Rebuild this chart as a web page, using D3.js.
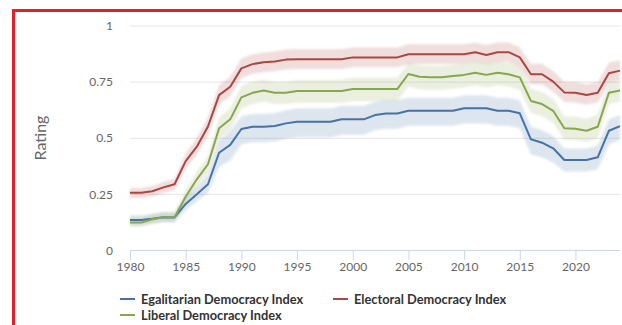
<!DOCTYPE html>
<html>
<head>
<meta charset="utf-8">
<script src="https://cdn.jsdelivr.net/npm/d3@7"></script>
<style>
  html, body { margin: 0; padding: 0; background: #fff; }
  svg { display: block; }
  text { font-family: Lato, "Open Sans", sans-serif; }
</style>
</head>
<body>
<svg id="chart" width="622" height="325"></svg>
<script>
// V-Dem democracy indices, 1980–2024, with confidence intervals
const years = d3.range(1980, 2025);

const electoral = [0.255,0.255,0.262,0.279,0.293,0.396,0.460,0.550,0.690,0.727,
  0.809,0.828,0.836,0.840,0.848,0.850,0.850,0.850,0.850,0.850,
  0.858,0.858,0.858,0.858,0.858,0.872,0.872,0.872,0.872,0.872,
  0.872,0.881,0.869,0.881,0.881,0.858,0.783,0.783,0.750,0.702,
  0.700,0.690,0.700,0.787,0.799];
const electoralLow = [0.232,0.232,0.238,0.254,0.266,0.362,0.423,0.510,0.648,0.684,
  0.766,0.785,0.792,0.796,0.804,0.806,0.806,0.806,0.806,0.806,
  0.814,0.814,0.814,0.814,0.814,0.828,0.828,0.828,0.828,0.828,
  0.828,0.837,0.826,0.837,0.837,0.814,0.737,0.737,0.705,0.659,
  0.657,0.647,0.657,0.744,0.756];
const electoralHigh = [0.277,0.277,0.285,0.303,0.318,0.430,0.500,0.592,0.735,0.772,
  0.853,0.872,0.880,0.884,0.893,0.895,0.895,0.895,0.895,0.895,
  0.902,0.902,0.902,0.902,0.902,0.916,0.916,0.916,0.916,0.916,
  0.916,0.924,0.913,0.924,0.924,0.902,0.830,0.830,0.797,0.750,
  0.748,0.738,0.748,0.834,0.846];

const liberal = [0.122,0.122,0.137,0.146,0.146,0.237,0.315,0.382,0.542,0.582,
  0.680,0.700,0.710,0.700,0.700,0.708,0.708,0.708,0.708,0.708,
  0.717,0.717,0.717,0.717,0.717,0.784,0.772,0.770,0.770,0.775,
  0.780,0.790,0.780,0.790,0.783,0.769,0.664,0.650,0.620,0.542,
  0.540,0.531,0.549,0.700,0.710];
const liberalLow = [0.103,0.103,0.117,0.125,0.125,0.207,0.282,0.345,0.495,0.533,
  0.630,0.650,0.660,0.650,0.650,0.656,0.656,0.656,0.656,0.656,
  0.664,0.664,0.664,0.664,0.664,0.728,0.716,0.714,0.714,0.719,
  0.724,0.734,0.724,0.734,0.727,0.713,0.610,0.596,0.567,0.492,
  0.490,0.481,0.499,0.650,0.660];
const liberalHigh = [0.142,0.142,0.158,0.168,0.168,0.268,0.350,0.420,0.590,0.632,
  0.730,0.750,0.760,0.750,0.750,0.758,0.758,0.758,0.758,0.758,
  0.767,0.767,0.767,0.767,0.767,0.834,0.822,0.820,0.820,0.825,
  0.830,0.840,0.830,0.840,0.833,0.819,0.718,0.704,0.674,0.595,
  0.593,0.585,0.602,0.745,0.755];

const egalitarian = [0.134,0.134,0.139,0.146,0.145,0.205,0.248,0.293,0.433,0.468,
  0.539,0.549,0.549,0.552,0.564,0.571,0.571,0.571,0.571,0.582,
  0.582,0.582,0.601,0.608,0.608,0.620,0.620,0.620,0.620,0.620,
  0.631,0.631,0.631,0.620,0.620,0.609,0.493,0.478,0.453,0.401,
  0.401,0.401,0.413,0.531,0.552];
const egalitarianLow = [0.113,0.113,0.118,0.125,0.124,0.177,0.216,0.255,0.370,0.400,
  0.470,0.480,0.480,0.483,0.495,0.502,0.502,0.502,0.502,0.513,
  0.513,0.513,0.533,0.540,0.540,0.553,0.553,0.553,0.553,0.553,
  0.564,0.564,0.564,0.553,0.553,0.542,0.425,0.412,0.390,0.350,
  0.350,0.350,0.360,0.470,0.490];
const egalitarianHigh = [0.155,0.155,0.160,0.168,0.167,0.235,0.282,0.335,0.490,0.528,
  0.597,0.607,0.607,0.610,0.622,0.631,0.631,0.631,0.631,0.642,
  0.642,0.642,0.660,0.667,0.667,0.678,0.678,0.678,0.678,0.678,
  0.689,0.689,0.689,0.678,0.678,0.667,0.550,0.535,0.508,0.452,
  0.452,0.452,0.465,0.582,0.600];

const seriesNames = ["Egalitarian Democracy Index", "Electoral Democracy Index", "Liberal Democracy Index"];
const seriesColors = ["#4572a7", "#aa4643", "#89a54e"];
const xTicks = [1980, 1985, 1990, 1995, 2000, 2005, 2010, 2015, 2020];
const yTicks = [0, 0.25, 0.5, 0.75, 1];
const yTickLabels = ["0", "0.25", "0.5", "0.75", "1"];
const yTitle = "Rating";

const series = [
  { name: seriesNames[0], color: seriesColors[0], mid: egalitarian, low: egalitarianLow, high: egalitarianHigh },
  { name: seriesNames[1], color: seriesColors[1], mid: electoral, low: electoralLow, high: electoralHigh },
  { name: seriesNames[2], color: seriesColors[2], mid: liberal, low: liberalLow, high: liberalHigh }
];

const svg = d3.select("#chart");
const plot = { left: 130, right: 620, top: 25.5, bottom: 250 };

const x = d3.scaleLinear().domain([1980, 2024]).range([plot.left, plot.right]);
const y = d3.scaleLinear().domain([0, 1]).range([plot.bottom, plot.top]);

// Red frame around the panel
svg.append("rect")
  .attr("x", 13.5).attr("y", 10.5)
  .attr("width", 700).attr("height", 400)
  .attr("fill", "none")
  .attr("stroke", "#e5202c")
  .attr("stroke-width", 3);

// Horizontal grid with the y tick labels
const yAxis = svg.append("g")
  .attr("transform", `translate(${plot.left},0)`)
  .call(d3.axisLeft(y)
    .tickValues(yTicks)
    .tickFormat((d, i) => yTickLabels[i])
    .tickSizeInner(-(plot.right - plot.left))
    .tickSizeOuter(0)
    .tickPadding(17));
yAxis.select(".domain").remove();
yAxis.selectAll(".tick line").attr("stroke", "#e6e6e6").attr("stroke-width", 1);
yAxis.selectAll(".tick text")
  .attr("fill", "#666").style("font-size", "12px")
  .attr("dy", "0.35em");

// Confidence bands and lines
const area = d3.area()
  .x((d, i) => x(years[i]))
  .y0(d => y(d[0]))
  .y1(d => y(d[1]));
const line = d3.line()
  .x((d, i) => x(years[i]))
  .y(d => y(d));

const bands = svg.append("g");
const lines = svg.append("g");
series.forEach(s => {
  bands.append("path")
    .datum(s.low.map((v, i) => [v, s.high[i]]))
    .attr("d", area)
    .attr("fill", s.color)
    .attr("fill-opacity", 0.18)
    .style("filter", "blur(1px)");
  lines.append("path")
    .datum(s.mid)
    .attr("d", line)
    .attr("fill", "none")
    .attr("stroke", s.color)
    .attr("stroke-width", 2)
    .attr("stroke-linejoin", "round");
});

// X axis
const xAxis = svg.append("g")
  .attr("transform", `translate(0,${plot.bottom})`)
  .call(d3.axisBottom(x)
    .tickValues(xTicks)
    .tickFormat(d3.format("d"))
    .tickSizeInner(10)
    .tickSizeOuter(0)
    .tickPadding(2));
xAxis.select(".domain").attr("stroke", "#ccd6eb");
xAxis.selectAll(".tick line").attr("stroke", "#ccd6eb");
xAxis.selectAll(".tick text").attr("fill", "#666").style("font-size", "12px");

// Y axis title
svg.append("text")
  .attr("transform", `translate(46,138) rotate(-90)`)
  .attr("text-anchor", "middle")
  .attr("fill", "#666")
  .style("font-size", "16px")
  .text(yTitle);

// Legend
const legendPos = [[120, 299], [333, 299], [120, 315]];
const legend = svg.append("g");
series.forEach((s, i) => {
  const [lx, ly] = legendPos[i];
  legend.append("line")
    .attr("x1", lx).attr("x2", lx + 15)
    .attr("y1", ly).attr("y2", ly)
    .attr("stroke", s.color).attr("stroke-width", 2);
  legend.append("text")
    .attr("x", lx + 21).attr("y", ly + 4.5)
    .attr("fill", "#333")
    .style("font-size", "12.8px")
    .style("font-weight", "bold")
    .text(s.name);
});
</script>
</body>
</html>
